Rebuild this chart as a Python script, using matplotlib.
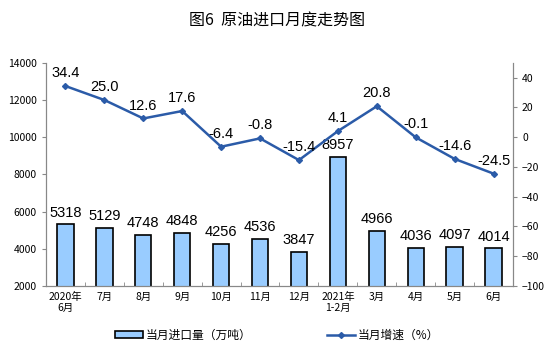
import matplotlib
matplotlib.use('Agg')
import matplotlib.pyplot as plt
import numpy as np

plt.rcParams['font.family'] = ['Noto Sans CJK SC', 'DejaVu Sans']

months = ['2020年\n6月', '7月', '8月', '9月', '10月', '11月', '12月',
          '2021年\n1-2月', '3月', '4月', '5月', '6月']
imports = [5318, 5129, 4748, 4848, 4256, 4536, 3847, 8957, 4966, 4036, 4097, 4014]
growth = [34.4, 25.0, 12.6, 17.6, -6.4, -0.8, -15.4, 4.1, 20.8, -0.1, -14.6, -24.5]

fig = plt.figure(figsize=(5.54, 3.53), dpi=100)
ax = fig.add_axes([0.083, 0.19, 0.843, 0.632])
x = np.arange(len(months))

#-- barre
ax.bar(x, imports, width=0.42, color='#99CCFF', edgecolor='black',
       linewidth=1.2, label='当月进口量（万吨）', zorder=2)
for xi, v in zip(x, imports):
    ax.text(xi, v + 250, str(v), ha='center', va='bottom', fontsize=10.5,
            family='Liberation Sans')
ax.set_ylim(2000, 14000)
ax.set_yticks(np.arange(2000, 14001, 2000))
ax.set_xlim(-0.5, len(months) - 0.5)
ax.set_xticks(x)
ax.set_xticklabels(months, fontsize=7.5)
ax.set_xticks(np.arange(-0.5, len(months), 1), minor=True)
ax.tick_params(axis='x', which='major', length=0, pad=4)
ax.tick_params(axis='x', which='minor', length=3, direction='in', color='#888888')
ax.tick_params(axis='y', labelsize=7.5, length=3, color='#888888')
#--

#-- linea
ax2 = ax.twinx()
ax2.plot(x, growth, color='#2B5BA8', linewidth=1.8, marker='D', markersize=3,
         label='当月增速（%）', zorder=3)
for xi, v in zip(x, growth):
    ax2.text(xi, v + 4, '%.1f' % v, ha='center', va='bottom', fontsize=10.5,
             family='Liberation Sans')
ax2.set_ylim(-100, 50)
ax2.set_yticks(np.arange(-100, 41, 20))
ax2.tick_params(axis='y', labelsize=7.5, length=3, color='#888888')
#--

for a in (ax, ax2):
    a.spines['top'].set_visible(False)
    for s in ('left', 'right', 'bottom'):
        a.spines[s].set_color('#888888')

fig.suptitle('图6  原油进口月度走势图', x=0.5, y=0.965, fontsize=11.5)

h1, l1 = ax.get_legend_handles_labels()
h2, l2 = ax2.get_legend_handles_labels()
fig.legend(h1 + h2, l1 + l2, loc='center', bbox_to_anchor=(0.5, 0.05), ncol=2,
           frameon=False, fontsize=8.5, columnspacing=6.4, handlelength=2.4,
           handleheight=0.6, handletextpad=0.2)

fig.savefig('out.png', dpi=100)
